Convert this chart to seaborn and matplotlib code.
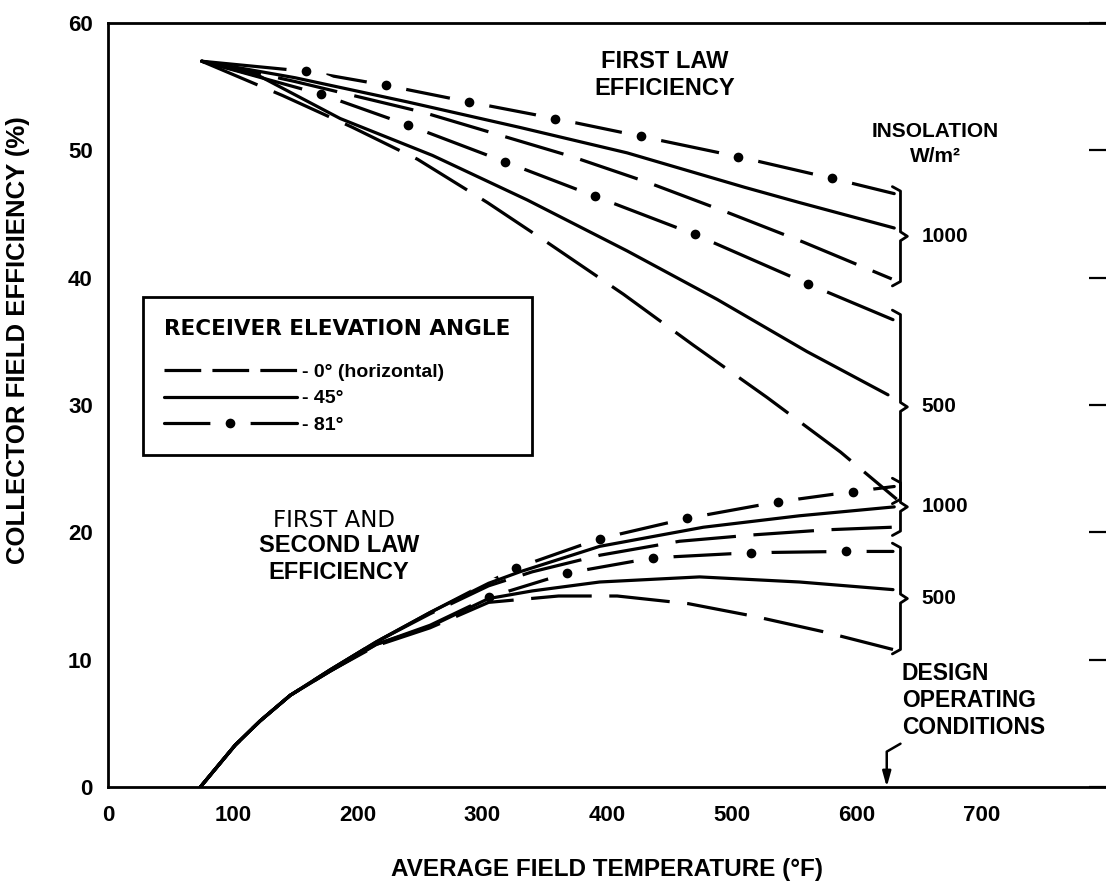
import matplotlib
matplotlib.use('Agg')
import matplotlib.pyplot as plt
from matplotlib.lines import Line2D
import seaborn as sns

# first law efficiency curves (upper set)
fl_81_1000_t = [75, 159, 223, 289, 358, 427, 505, 580, 630]
fl_81_1000_v = [57.0, 56.2, 55.1, 53.8, 52.5, 51.1, 49.5, 47.8, 46.6]
fl_45_1000_t = [75, 150, 240, 330, 416, 510, 554, 630]
fl_45_1000_v = [57.0, 55.7, 53.8, 51.8, 49.8, 47.1, 45.9, 43.9]
fl_0_1000_t = [75, 150, 252, 300, 372, 432, 497, 557, 628]
fl_0_1000_v = [57.0, 55.4, 53.0, 51.6, 49.5, 47.5, 45.1, 42.8, 39.9]
fl_81_500_t = [75, 171, 240, 318, 390, 470, 561, 629]
fl_81_500_v = [57.0, 54.4, 52.0, 49.1, 46.4, 43.4, 39.5, 36.7]
fl_45_500_t = [75, 122, 186, 260, 336, 416, 488, 560, 625]
fl_45_500_v = [57.0, 55.8, 52.5, 49.6, 46.1, 42.1, 38.3, 34.2, 30.8]
fl_0_500_t = [75, 140, 196, 248, 304, 353, 413, 469, 528, 587, 632]
fl_0_500_v = [57.0, 54.3, 51.8, 49.3, 45.9, 42.7, 38.7, 34.7, 30.6, 26.3, 22.6]

# first and second law efficiency curves (lower set)
sl_81_1000_t = [74, 102, 122, 146, 178, 215, 258, 327, 394, 464, 537, 597, 630]
sl_81_1000_v = [0, 3.3, 5.2, 7.2, 9.2, 11.4, 13.7, 17.2, 19.5, 21.1, 22.4, 23.2, 23.6]
sl_45_1000_t = [74, 102, 122, 146, 178, 215, 258, 305, 330, 394, 477, 554, 630]
sl_45_1000_v = [0, 3.3, 5.2, 7.2, 9.2, 11.4, 13.7, 16.0, 16.9, 18.9, 20.4, 21.3, 22.0]
sl_0_1000_t = [74, 102, 122, 146, 178, 215, 258, 305, 340, 394, 458, 517, 576, 628]
sl_0_1000_v = [0, 3.3, 5.2, 7.2, 9.2, 11.4, 13.6, 15.8, 16.9, 18.2, 19.3, 19.8, 20.2, 20.4]
sl_81_500_t = [74, 102, 122, 146, 178, 215, 258, 305, 368, 437, 515, 591, 629]
sl_81_500_v = [0, 3.3, 5.2, 7.2, 9.1, 11.2, 12.7, 14.9, 16.8, 18.0, 18.4, 18.5, 18.5]
sl_45_500_t = [74, 102, 122, 146, 178, 215, 258, 305, 340, 394, 474, 554, 629]
sl_45_500_v = [0, 3.3, 5.2, 7.2, 9.1, 11.2, 12.6, 14.8, 15.4, 16.1, 16.5, 16.1, 15.5]
sl_0_500_t = [74, 102, 122, 146, 178, 215, 258, 305, 361, 408, 465, 518, 573, 629]
sl_0_500_v = [0, 3.3, 5.2, 7.2, 9.1, 11.1, 12.5, 14.5, 15.0, 15.0, 14.4, 13.4, 12.2, 10.8]

# index of the first dot on each 81 deg curve
fl_81_first_dot = 1
sl_81_first_dot = 7

x_ticks = [0, 100, 200, 300, 400, 500, 600, 700]
y_ticks = [0, 10, 20, 30, 40, 50, 60]
design_temp = 624
angle_labels = ['- 0° (horizontal)', '- 45°', '- 81°']

LW = 2.3
DASH = (0, (19, 5.5))

sns.set_style('white')
plt.rcParams['font.family'] = ['Liberation Sans', 'DejaVu Sans']
plt.rcParams['font.weight'] = 'bold'
plt.rcParams['axes.labelweight'] = 'bold'
plt.rcParams['text.color'] = 'black'
plt.rcParams['axes.labelcolor'] = 'black'
plt.rcParams['xtick.color'] = 'black'
plt.rcParams['ytick.color'] = 'black'

fig = plt.figure(figsize=(11.06, 8.85), dpi=100)
ax = fig.add_axes([0.09765, 0.11073, 0.90271, 0.86328])


def dotted(t, v, first):
    # long dashes broken by dots: dots sit on the read points, white rim cuts the line
    sns.lineplot(x=t, y=v, ax=ax, color='black', linewidth=LW, marker='o',
                 markersize=18, markerfacecolor='black', markeredgecolor='white',
                 markeredgewidth=11, markevery=list(range(first, len(t) - 1)),
                 zorder=2, legend=False)


def solid(t, v):
    sns.lineplot(x=t, y=v, ax=ax, color='black', linewidth=LW, zorder=3, legend=False)


def dashed(t, v):
    sns.lineplot(x=t, y=v, ax=ax, color='black', linewidth=LW, linestyle=DASH,
                 zorder=3, legend=False)


dotted(fl_81_1000_t, fl_81_1000_v, fl_81_first_dot)
dotted(fl_81_500_t, fl_81_500_v, fl_81_first_dot)
dotted(sl_81_1000_t, sl_81_1000_v, sl_81_first_dot)
dotted(sl_81_500_t, sl_81_500_v, sl_81_first_dot)
solid(fl_45_1000_t, fl_45_1000_v)
solid(fl_45_500_t, fl_45_500_v)
solid(sl_45_1000_t, sl_45_1000_v)
solid(sl_45_500_t, sl_45_500_v)
dashed(fl_0_1000_t, fl_0_1000_v)
dashed(fl_0_500_t, fl_0_500_v)
dashed(sl_0_1000_t, sl_0_1000_v)
dashed(sl_0_500_t, sl_0_500_v)


def brace(x, top, bottom, label):
    mid = (top + bottom) / 2
    h, c, k = 6.5, 5.5, 0.35
    bx = [x - h, x, x, x + c, x, x, x - h]
    by = [top + k, top, mid + k, mid, mid - k, bottom, bottom - k]
    ax.plot(bx, by, color='black', lw=2, solid_joinstyle='round', zorder=4)
    ax.text(652, mid, label, ha='left', va='center', fontsize=15)


brace(635, fl_81_1000_v[-1] + 0.2, fl_0_1000_v[-1] - 0.2, '1000')
brace(635, fl_81_500_v[-1] + 0.4, fl_0_500_v[-1], '500')
brace(635, sl_81_1000_v[-1] + 0.3, sl_0_1000_v[-1] - 0.3, '1000')
brace(635, sl_81_500_v[-1] + 0.3, sl_0_500_v[-1], '500')

ax.text(446, 55.9, 'FIRST LAW\nEFFICIENCY', ha='center', va='center', fontsize=17)
ax.text(663, 50.5, 'INSOLATION\nW/m²', ha='center', va='center', fontsize=15,
        linespacing=1.35)
ax.text(181, 20.9, 'FIRST AND', ha='center', va='center', fontsize=16.5,
        fontweight='normal', family='DejaVu Sans')
ax.text(185, 17.9, 'SECOND LAW\nEFFICIENCY', ha='center', va='center', fontsize=17)
ax.text(636, 6.8, 'DESIGN\nOPERATING\nCONDITIONS', ha='left', va='center', fontsize=16.5)
ax.annotate('', xy=(design_temp, 0), xytext=(design_temp + 11, 3.4),
            arrowprops=dict(arrowstyle='-|>,head_length=0.9,head_width=0.25',
                            color='black', lw=1.8, shrinkA=0, shrinkB=0,
                            connectionstyle='angle,angleA=30,angleB=90,rad=0'))

handles = [Line2D([], [], color='black', lw=LW, linestyle=(0, (11.5, 3.5))),
           Line2D([], [], color='black', lw=LW),
           Line2D([], [], color='black', lw=LW, marker='o', markersize=18,
                  markerfacecolor='black', markeredgecolor='white', markeredgewidth=11)]
leg = ax.legend(handles, angle_labels, title='RECEIVER ELEVATION ANGLE\n',
                loc='upper left', bbox_to_anchor=(0.035, 0.641), borderaxespad=0,
                frameon=True, fancybox=False, edgecolor='black', framealpha=1,
                numpoints=1, handlelength=6.8, handletextpad=0.3, labelspacing=0.45,
                borderpad=1.1, prop={'size': 14, 'weight': 'bold'},
                title_fontproperties={'family': 'DejaVu Sans', 'size': 15.5, 'weight': 'bold'},
                alignment='left')
leg.get_frame().set_linewidth(2)
leg.get_title().set_linespacing(0.75)
leg.set_zorder(6)

ax.set_xlim(0, 800)
ax.set_ylim(0, 60)
ax.set_xticks(x_ticks)
ax.set_yticks(y_ticks)
ax.tick_params(axis='both', direction='in', length=12, width=1.6, colors='black')
ax.tick_params(axis='x', labelsize=16, pad=13, top=False)
ax.tick_params(axis='y', labelsize=16, pad=11, right=True)
for side in ['left', 'bottom', 'top']:
    ax.spines[side].set_visible(True)
    ax.spines[side].set_color('black')
    ax.spines[side].set_linewidth(2)
ax.spines['right'].set_visible(False)

ax.set_xlabel('AVERAGE FIELD TEMPERATURE (°F)', fontsize=17.5, labelpad=23)
ax.set_ylabel('COLLECTOR FIELD EFFICIENCY (%)', fontsize=18.5)
ax.yaxis.set_label_coords(-0.078, 0.585)

fig.savefig('out.png', dpi=100)
